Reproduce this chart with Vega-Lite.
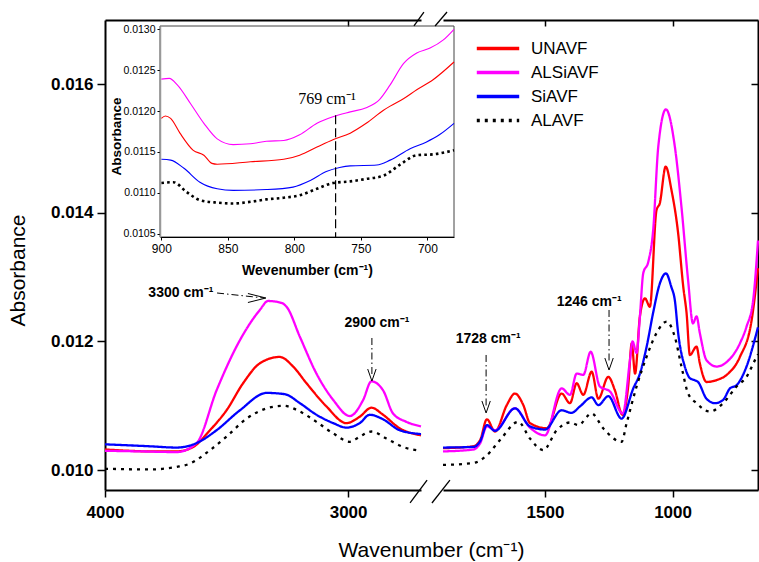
{
"$schema":"https://vega.github.io/schema/vega-lite/v6.json",
"autosize":{"type":"none"},
"padding":{"left":105,"top":20,"right":1,"bottom":72},
"width":653,"height":470,
"background":"white",
"datasets":{
"left":[
{"s":"UNAVF","w":4000,"v":0.01032},{"s":"UNAVF","w":3900,"v":0.0103},{"s":"UNAVF","w":3815,"v":0.01029},{"s":"UNAVF","w":3705,"v":0.01029},{"s":"UNAVF","w":3637,"v":0.01036},{"s":"UNAVF","w":3568,"v":0.01062},{"s":"UNAVF","w":3500,"v":0.01093},{"s":"UNAVF","w":3432,"v":0.01135},{"s":"UNAVF","w":3363,"v":0.01166},{"s":"UNAVF","w":3281,"v":0.01176},{"s":"UNAVF","w":3226,"v":0.01161},{"s":"UNAVF","w":3171,"v":0.01135},{"s":"UNAVF","w":3089,"v":0.01099},{"s":"UNAVF","w":3007,"v":0.01073},{"s":"UNAVF","w":2952,"v":0.01083},{"s":"UNAVF","w":2904,"v":0.01097},{"s":"UNAVF","w":2856,"v":0.01086},{"s":"UNAVF","w":2788,"v":0.01065},{"s":"UNAVF","w":2700,"v":0.01054},
{"s":"ALSiAVF","w":4000,"v":0.0103},{"s":"ALSiAVF","w":3850,"v":0.01029},{"s":"ALSiAVF","w":3705,"v":0.01028},{"s":"ALSiAVF","w":3623,"v":0.01042},{"s":"ALSiAVF","w":3541,"v":0.01124},{"s":"ALSiAVF","w":3445,"v":0.01202},{"s":"ALSiAVF","w":3363,"v":0.01249},{"s":"ALSiAVF","w":3329,"v":0.01263},{"s":"ALSiAVF","w":3274,"v":0.0126},{"s":"ALSiAVF","w":3253,"v":0.01254},{"s":"ALSiAVF","w":3198,"v":0.01207},{"s":"ALSiAVF","w":3130,"v":0.0115},{"s":"ALSiAVF","w":3061,"v":0.01109},{"s":"ALSiAVF","w":2993,"v":0.01084},{"s":"ALSiAVF","w":2938,"v":0.01109},{"s":"ALSiAVF","w":2904,"v":0.01138},{"s":"ALSiAVF","w":2856,"v":0.01124},{"s":"ALSiAVF","w":2815,"v":0.01088},{"s":"ALSiAVF","w":2760,"v":0.01075},{"s":"ALSiAVF","w":2700,"v":0.01068},
{"s":"SiAVF","w":4000,"v":0.0104},{"s":"SiAVF","w":3815,"v":0.01037},{"s":"SiAVF","w":3705,"v":0.01035},{"s":"SiAVF","w":3623,"v":0.01042},{"s":"SiAVF","w":3541,"v":0.01062},{"s":"SiAVF","w":3445,"v":0.01093},{"s":"SiAVF","w":3335,"v":0.0112},{"s":"SiAVF","w":3260,"v":0.01118},{"s":"SiAVF","w":3198,"v":0.01104},{"s":"SiAVF","w":3130,"v":0.01086},{"s":"SiAVF","w":3061,"v":0.01073},{"s":"SiAVF","w":3007,"v":0.01066},{"s":"SiAVF","w":2952,"v":0.01073},{"s":"SiAVF","w":2911,"v":0.01086},{"s":"SiAVF","w":2856,"v":0.01079},{"s":"SiAVF","w":2788,"v":0.01062},{"s":"SiAVF","w":2700,"v":0.01056},
{"s":"ALAVF","w":4000,"v":0.01002},{"s":"ALAVF","w":3815,"v":0.01001},{"s":"ALAVF","w":3705,"v":0.01005},{"s":"ALAVF","w":3651,"v":0.0101},{"s":"ALAVF","w":3568,"v":0.01031},{"s":"ALAVF","w":3500,"v":0.01052},{"s":"ALAVF","w":3418,"v":0.0108},{"s":"ALAVF","w":3335,"v":0.01096},{"s":"ALAVF","w":3267,"v":0.011},{"s":"ALAVF","w":3198,"v":0.01091},{"s":"ALAVF","w":3130,"v":0.01075},{"s":"ALAVF","w":3061,"v":0.01057},{"s":"ALAVF","w":2993,"v":0.01044},{"s":"ALAVF","w":2952,"v":0.01052},{"s":"ALAVF","w":2904,"v":0.0106},{"s":"ALAVF","w":2842,"v":0.01049},{"s":"ALAVF","w":2774,"v":0.01036},{"s":"ALAVF","w":2700,"v":0.0103}
],
"right":[
{"s":"UNAVF","w":1900,"v":0.01034},{"s":"UNAVF","w":1781,"v":0.01037},{"s":"UNAVF","w":1754,"v":0.01047},{"s":"UNAVF","w":1728,"v":0.01079},{"s":"UNAVF","w":1696,"v":0.0106},{"s":"UNAVF","w":1650,"v":0.01101},{"s":"UNAVF","w":1618,"v":0.01119},{"s":"UNAVF","w":1585,"v":0.01101},{"s":"UNAVF","w":1559,"v":0.01073},{"s":"UNAVF","w":1493,"v":0.01065},{"s":"UNAVF","w":1435,"v":0.01119},{"s":"UNAVF","w":1402,"v":0.01104},{"s":"UNAVF","w":1376,"v":0.01135},{"s":"UNAVF","w":1350,"v":0.01117},{"s":"UNAVF","w":1317,"v":0.01153},{"s":"UNAVF","w":1291,"v":0.01111},{"s":"UNAVF","w":1252,"v":0.01145},{"s":"UNAVF","w":1226,"v":0.01124},{"s":"UNAVF","w":1196,"v":0.01086},{"s":"UNAVF","w":1174,"v":0.0113},{"s":"UNAVF","w":1160,"v":0.01197},{"s":"UNAVF","w":1147,"v":0.0115},{"s":"UNAVF","w":1128,"v":0.01239},{"s":"UNAVF","w":1108,"v":0.01267},{"s":"UNAVF","w":1089,"v":0.01254},{"s":"UNAVF","w":1063,"v":0.01404},{"s":"UNAVF","w":1050,"v":0.01415},{"s":"UNAVF","w":1027,"v":0.01472},{"s":"UNAVF","w":1004,"v":0.01435},{"s":"UNAVF","w":978,"v":0.01368},{"s":"UNAVF","w":958,"v":0.01285},{"s":"UNAVF","w":945,"v":0.01244},{"s":"UNAVF","w":932,"v":0.01179},{"s":"UNAVF","w":906,"v":0.01192},{"s":"UNAVF","w":893,"v":0.01166},{"s":"UNAVF","w":867,"v":0.01137},{"s":"UNAVF","w":827,"v":0.0114},{"s":"UNAVF","w":788,"v":0.01148},{"s":"UNAVF","w":736,"v":0.01176},{"s":"UNAVF","w":690,"v":0.01233},{"s":"UNAVF","w":665,"v":0.01314},
{"s":"ALSiAVF","w":1900,"v":0.01029},{"s":"ALSiAVF","w":1781,"v":0.01032},{"s":"ALSiAVF","w":1754,"v":0.01042},{"s":"ALSiAVF","w":1728,"v":0.01068},{"s":"ALSiAVF","w":1696,"v":0.01062},{"s":"ALSiAVF","w":1618,"v":0.01096},{"s":"ALSiAVF","w":1559,"v":0.01066},{"s":"ALSiAVF","w":1500,"v":0.01054},{"s":"ALSiAVF","w":1435,"v":0.01127},{"s":"ALSiAVF","w":1402,"v":0.01117},{"s":"ALSiAVF","w":1376,"v":0.0115},{"s":"ALSiAVF","w":1350,"v":0.01148},{"s":"ALSiAVF","w":1321,"v":0.01184},{"s":"ALSiAVF","w":1285,"v":0.0113},{"s":"ALSiAVF","w":1245,"v":0.01122},{"s":"ALSiAVF","w":1195,"v":0.01088},{"s":"ALSiAVF","w":1167,"v":0.01171},{"s":"ALSiAVF","w":1157,"v":0.012},{"s":"ALSiAVF","w":1141,"v":0.01182},{"s":"ALSiAVF","w":1128,"v":0.01239},{"s":"ALSiAVF","w":1115,"v":0.01306},{"s":"ALSiAVF","w":1095,"v":0.01324},{"s":"ALSiAVF","w":1076,"v":0.01373},{"s":"ALSiAVF","w":1056,"v":0.01503},{"s":"ALSiAVF","w":1026,"v":0.01561},{"s":"ALSiAVF","w":991,"v":0.01503},{"s":"ALSiAVF","w":965,"v":0.01409},{"s":"ALSiAVF","w":939,"v":0.01295},{"s":"ALSiAVF","w":920,"v":0.01228},{"s":"ALSiAVF","w":906,"v":0.01239},{"s":"ALSiAVF","w":893,"v":0.01213},{"s":"ALSiAVF","w":867,"v":0.01171},{"s":"ALSiAVF","w":827,"v":0.01161},{"s":"ALSiAVF","w":788,"v":0.01168},{"s":"ALSiAVF","w":736,"v":0.01197},{"s":"ALSiAVF","w":710,"v":0.01223},{"s":"ALSiAVF","w":684,"v":0.01264},{"s":"ALSiAVF","w":665,"v":0.01357},
{"s":"SiAVF","w":1900,"v":0.01035},{"s":"SiAVF","w":1781,"v":0.01036},{"s":"SiAVF","w":1754,"v":0.01045},{"s":"SiAVF","w":1728,"v":0.0107},{"s":"SiAVF","w":1696,"v":0.01061},{"s":"SiAVF","w":1618,"v":0.01096},{"s":"SiAVF","w":1559,"v":0.01068},{"s":"SiAVF","w":1500,"v":0.01063},{"s":"SiAVF","w":1435,"v":0.01093},{"s":"SiAVF","w":1396,"v":0.01089},{"s":"SiAVF","w":1363,"v":0.01099},{"s":"SiAVF","w":1317,"v":0.01113},{"s":"SiAVF","w":1291,"v":0.01101},{"s":"SiAVF","w":1252,"v":0.01115},{"s":"SiAVF","w":1200,"v":0.0108},{"s":"SiAVF","w":1154,"v":0.01127},{"s":"SiAVF","w":1128,"v":0.0115},{"s":"SiAVF","w":1100,"v":0.01195},{"s":"SiAVF","w":1076,"v":0.01245},{"s":"SiAVF","w":1050,"v":0.0129},{"s":"SiAVF","w":1026,"v":0.01306},{"s":"SiAVF","w":1005,"v":0.01285},{"s":"SiAVF","w":991,"v":0.01264},{"s":"SiAVF","w":978,"v":0.01213},{"s":"SiAVF","w":952,"v":0.01161},{"s":"SiAVF","w":932,"v":0.01143},{"s":"SiAVF","w":915,"v":0.0114},{"s":"SiAVF","w":900,"v":0.01137},{"s":"SiAVF","w":867,"v":0.01111},{"s":"SiAVF","w":834,"v":0.01104},{"s":"SiAVF","w":802,"v":0.01109},{"s":"SiAVF","w":775,"v":0.01127},{"s":"SiAVF","w":749,"v":0.01132},{"s":"SiAVF","w":710,"v":0.01161},{"s":"SiAVF","w":671,"v":0.01213},{"s":"SiAVF","w":665,"v":0.01222},
{"s":"ALAVF","w":1900,"v":0.01008},{"s":"ALAVF","w":1781,"v":0.01011},{"s":"ALAVF","w":1728,"v":0.01023},{"s":"ALAVF","w":1676,"v":0.01047},{"s":"ALAVF","w":1605,"v":0.01075},{"s":"ALAVF","w":1559,"v":0.01049},{"s":"ALAVF","w":1507,"v":0.01031},{"s":"ALAVF","w":1454,"v":0.01062},{"s":"ALAVF","w":1402,"v":0.01074},{"s":"ALAVF","w":1370,"v":0.0107},{"s":"ALAVF","w":1317,"v":0.01088},{"s":"ALAVF","w":1272,"v":0.01065},{"s":"ALAVF","w":1200,"v":0.01044},{"s":"ALAVF","w":1180,"v":0.01073},{"s":"ALAVF","w":1141,"v":0.0113},{"s":"ALAVF","w":1102,"v":0.01176},{"s":"ALAVF","w":1063,"v":0.01213},{"s":"ALAVF","w":1023,"v":0.01231},{"s":"ALAVF","w":991,"v":0.01207},{"s":"ALAVF","w":965,"v":0.01161},{"s":"ALAVF","w":939,"v":0.01119},{"s":"ALAVF","w":906,"v":0.01104},{"s":"ALAVF","w":854,"v":0.01091},{"s":"ALAVF","w":802,"v":0.01104},{"s":"ALAVF","w":749,"v":0.0113},{"s":"ALAVF","w":710,"v":0.01145},{"s":"ALAVF","w":677,"v":0.01171},{"s":"ALAVF","w":665,"v":0.0118}
],
"inset":[
{"s":"UNAVF","w":900,"v":0.01191},{"s":"UNAVF","w":897,"v":0.01194},{"s":"UNAVF","w":893,"v":0.01191},{"s":"UNAVF","w":886,"v":0.01173},{"s":"UNAVF","w":876,"v":0.01152},{"s":"UNAVF","w":868,"v":0.01146},{"s":"UNAVF","w":862,"v":0.01136},{"s":"UNAVF","w":858,"v":0.01135},{"s":"UNAVF","w":833,"v":0.01138},{"s":"UNAVF","w":808,"v":0.01141},{"s":"UNAVF","w":796,"v":0.01146},{"s":"UNAVF","w":783,"v":0.01156},{"s":"UNAVF","w":771,"v":0.01165},{"s":"UNAVF","w":758,"v":0.01173},{"s":"UNAVF","w":746,"v":0.01185},{"s":"UNAVF","w":733,"v":0.01201},{"s":"UNAVF","w":728,"v":0.01206},{"s":"UNAVF","w":718,"v":0.01215},{"s":"UNAVF","w":708,"v":0.01226},{"s":"UNAVF","w":696,"v":0.01238},{"s":"UNAVF","w":680,"v":0.0126},
{"s":"ALSiAVF","w":900,"v":0.01239},{"s":"ALSiAVF","w":894,"v":0.0124},{"s":"ALSiAVF","w":888,"v":0.01232},{"s":"ALSiAVF","w":878,"v":0.01209},{"s":"ALSiAVF","w":868,"v":0.01185},{"s":"ALSiAVF","w":858,"v":0.01166},{"s":"ALSiAVF","w":846,"v":0.01159},{"s":"ALSiAVF","w":833,"v":0.0116},{"s":"ALSiAVF","w":821,"v":0.01163},{"s":"ALSiAVF","w":808,"v":0.01164},{"s":"ALSiAVF","w":796,"v":0.01171},{"s":"ALSiAVF","w":783,"v":0.01185},{"s":"ALSiAVF","w":771,"v":0.01193},{"s":"ALSiAVF","w":758,"v":0.01199},{"s":"ALSiAVF","w":746,"v":0.01204},{"s":"ALSiAVF","w":736,"v":0.01214},{"s":"ALSiAVF","w":728,"v":0.01232},{"s":"ALSiAVF","w":718,"v":0.01258},{"s":"ALSiAVF","w":708,"v":0.01271},{"s":"ALSiAVF","w":698,"v":0.01277},{"s":"ALSiAVF","w":688,"v":0.01287},{"s":"ALSiAVF","w":680,"v":0.013},
{"s":"SiAVF","w":900,"v":0.01141},{"s":"SiAVF","w":893,"v":0.0114},{"s":"SiAVF","w":883,"v":0.0113},{"s":"SiAVF","w":871,"v":0.01113},{"s":"SiAVF","w":858,"v":0.01105},{"s":"SiAVF","w":846,"v":0.01103},{"s":"SiAVF","w":821,"v":0.01104},{"s":"SiAVF","w":801,"v":0.01107},{"s":"SiAVF","w":788,"v":0.01115},{"s":"SiAVF","w":776,"v":0.01126},{"s":"SiAVF","w":766,"v":0.01131},{"s":"SiAVF","w":758,"v":0.01133},{"s":"SiAVF","w":738,"v":0.01134},{"s":"SiAVF","w":728,"v":0.0114},{"s":"SiAVF","w":713,"v":0.01154},{"s":"SiAVF","w":701,"v":0.01162},{"s":"SiAVF","w":691,"v":0.01171},{"s":"SiAVF","w":680,"v":0.01185},
{"s":"ALAVF","w":900,"v":0.01112},{"s":"ALAVF","w":891,"v":0.01113},{"s":"ALAVF","w":881,"v":0.01101},{"s":"ALAVF","w":871,"v":0.01091},{"s":"ALAVF","w":858,"v":0.01088},{"s":"ALAVF","w":846,"v":0.01087},{"s":"ALAVF","w":833,"v":0.01089},{"s":"ALAVF","w":821,"v":0.01092},{"s":"ALAVF","w":808,"v":0.01094},{"s":"ALAVF","w":796,"v":0.01097},{"s":"ALAVF","w":783,"v":0.01105},{"s":"ALAVF","w":771,"v":0.01112},{"s":"ALAVF","w":758,"v":0.01114},{"s":"ALAVF","w":746,"v":0.01117},{"s":"ALAVF","w":733,"v":0.01121},{"s":"ALAVF","w":721,"v":0.01134},{"s":"ALAVF","w":708,"v":0.01146},{"s":"ALAVF","w":696,"v":0.01147},{"s":"ALAVF","w":680,"v":0.01152}
],
"annL":[{"t":"3300 cm⁻¹","w":3688,"v":0.012754},{"t":"2900 cm⁻¹","w":2881,"v":0.012287}],
"annR":[{"t":"1728 cm⁻¹","w":1723,"v":0.012038},{"t":"1246 cm⁻¹","w":1327,"v":0.012614}],
"arrL":[{"w":3539,"v":0.012754,"w2":3345,"v2":0.012676},{"w":2902,"v":0.012054,"w2":2902,"v2":0.011479}],
"arrR":[{"w":1731,"v":0.01179,"w2":1731,"v2":0.011},{"w":1249,"v":0.01249,"w2":1249,"v2":0.011665}],
"headRight":[{"w":3338,"v":0.012676}],
"headDownL":[{"w":2902,"v":0.011385}],
"headDownR":[{"w":1731,"v":0.010888},{"w":1249,"v":0.011556}],
"brk":[{"w":2745,"v":0.009488,"w2":2675,"v2":0.009845},{"w":2655,"v":0.009488,"w2":2581,"v2":0.009845},{"w":2729,"v":0.016907,"w2":2688,"v2":0.017124},{"w":2642,"v":0.016907,"w2":2593,"v2":0.017124}],
"frame":[{"w":901,"w2":680,"v":0.01046,"v2":0.01304}],
"mark769":[{"w":769,"v":0.01195,"v2":0.01046,"t":"769 cm⁻¹","tw":797,"tv":0.012086}]
},
"resolve":{"scale":{"x":"independent","y":"independent"},"axis":{"x":"independent","y":"independent"}},
"layer":[
{"data":{"name":"left"},"mark":{"type":"line","strokeWidth":2.3,"interpolate":"monotone"},
 "encoding":{
  "x":{"field":"w","type":"quantitative","scale":{"domain":[4000,2700],"range":[0,316],"nice":false,"zero":false},
       "axis":{"orient":"bottom","values":[4000,3000],"format":"d","labelFlush":false,"labelFontSize":17,"labelFontWeight":"bold","tickSize":7,"tickWidth":1.5,"domainWidth":2,"labelPadding":7,
               "title":"Wavenumber (cm⁻¹)","titleFontSize":21,"titleFontWeight":"normal","titleX":326,"titleY":66,"titleAlign":"center","titleBaseline":"alphabetic","titleAnchor":null}},
  "y":{"field":"v","type":"quantitative","scale":{"domain":[0.00969,0.017],"nice":false,"zero":false},
       "axis":{"orient":"left","values":[0.010,0.012,0.014,0.016],"format":".3f","labelFontSize":17,"labelFontWeight":"bold","tickSize":8,"tickWidth":1.5,"domainWidth":2,"labelPadding":4,
               "title":"Absorbance","titleFontSize":21,"titleFontWeight":"normal","titleX":-87,"titleY":250,"titleAngle":-90,"titleAlign":"center","titleBaseline":"middle"}},
  "color":{"field":"s","type":"nominal","title":null,"scale":{"domain":["UNAVF","ALSiAVF","SiAVF","ALAVF"],"range":["#ff0000","#ff00ff","#0000ff","#000000"]}},
  "strokeDash":{"field":"s","type":"nominal","title":null,"scale":{"domain":["UNAVF","ALSiAVF","SiAVF","ALAVF"],"range":[[1,0],[1,0],[1,0],[3,5]]}}
 }},
{"data":{"name":"right"},"mark":{"type":"line","strokeWidth":2.3,"interpolate":"monotone"},
 "encoding":{
  "x":{"field":"w","type":"quantitative","scale":{"domain":[1900,665],"range":[338,653],"nice":false,"zero":false},
       "axis":{"orient":"bottom","values":[1500,1000],"format":"d","labelFlush":false,"labelFontSize":17,"labelFontWeight":"bold","tickSize":7,"tickWidth":1.5,"domainWidth":2,"labelPadding":7,"title":null}},
  "y":{"field":"v","type":"quantitative","scale":{"domain":[0.00969,0.017],"nice":false,"zero":false},
       "axis":{"orient":"right","values":[0.010,0.012,0.014,0.016],"labels":false,"tickSize":-7,"tickWidth":1.5,"domainWidth":2,"title":null}},
  "color":{"field":"s","type":"nominal","title":null,"scale":{"domain":["UNAVF","ALSiAVF","SiAVF","ALAVF"],"range":["#ff0000","#ff00ff","#0000ff","#000000"]}},
  "strokeDash":{"field":"s","type":"nominal","title":null,"scale":{"domain":["UNAVF","ALSiAVF","SiAVF","ALAVF"],"range":[[1,0],[1,0],[1,0],[3,5]]}}
 }},
{"data":{"name":"left"},"mark":{"type":"point","opacity":0},
 "encoding":{
  "x":{"field":"w","type":"quantitative","scale":{"domain":[4000,2700],"range":[0,316],"nice":false,"zero":false},
       "axis":{"orient":"top","values":[3000],"labels":false,"tickSize":-6,"tickWidth":1.5,"domainWidth":2,"title":null}},
  "y":{"field":"v","type":"quantitative","scale":{"domain":[0.00969,0.017],"nice":false,"zero":false},"axis":null}
 }},
{"data":{"name":"right"},"mark":{"type":"point","opacity":0},
 "encoding":{
  "x":{"field":"w","type":"quantitative","scale":{"domain":[1900,665],"range":[338,653],"nice":false,"zero":false},
       "axis":{"orient":"top","values":[1500,1000],"labels":false,"tickSize":-6,"tickWidth":1.5,"domainWidth":2,"title":null}},
  "y":{"field":"v","type":"quantitative","scale":{"domain":[0.00969,0.017],"nice":false,"zero":false},"axis":null}
 }},
{"data":{"name":"frame"},"mark":{"type":"rect","filled":false,"stroke":"#444444","strokeWidth":1},
 "encoding":{
  "x":{"field":"w","type":"quantitative","scale":{"domain":[901,680],"range":[55,349],"nice":false,"zero":false},"axis":null},
  "x2":{"field":"w2"},
  "y":{"field":"v","type":"quantitative","scale":{"domain":[0.01046,0.01304],"range":[217,6],"nice":false,"zero":false},"axis":null},
  "y2":{"field":"v2"}
 }},
{"data":{"name":"inset"},"transform":[{"filter":"datum.s !== 'ALAVF'"}],"mark":{"type":"line","strokeWidth":1.1,"interpolate":"monotone"},
 "encoding":{
  "x":{"field":"w","type":"quantitative","scale":{"domain":[901,680],"range":[55,349],"nice":false,"zero":false},
       "axis":{"orient":"bottom","offset":-253,"zindex":1,"values":[900,850,800,750,700],"format":"d","labelFlush":false,"labelFontSize":12,"tickSize":3,"labelPadding":3,"domainWidth":1,
               "title":"Wevenumber (cm⁻¹)","titleFontSize":14,"titleFontWeight":"bold","titleX":202,"titleY":33,"titleAlign":"center","titleBaseline":"middle"}},
  "y":{"field":"v","type":"quantitative","scale":{"domain":[0.01046,0.01304],"range":[217,6],"nice":false,"zero":false},
       "axis":{"orient":"left","offset":-55,"zindex":1,"values":[0.0105,0.011,0.0115,0.012,0.0125,0.013],"format":".4f","labelFlush":false,"labelFontSize":10.5,"tickSize":3,"labelPadding":2,"domainWidth":1.5,"domainColor":"#999999",
               "title":"Absorbance","titleFontSize":13.5,"titleFontWeight":"bold","titleX":-44,"titleY":116,"titleAngle":-90,"titleAlign":"center","titleBaseline":"middle"}},
  "color":{"field":"s","type":"nominal","title":null,"scale":{"domain":["UNAVF","ALSiAVF","SiAVF","ALAVF"],"range":["#ff0000","#ff00ff","#0000ff","#000000"]}}
 }},
{"data":{"name":"inset"},"transform":[{"filter":"datum.s === 'ALAVF'"}],"mark":{"type":"line","strokeWidth":2.6,"strokeDash":[2.6,3.2],"color":"#000000","interpolate":"monotone"},
 "encoding":{
  "x":{"field":"w","type":"quantitative","scale":{"domain":[901,680],"range":[55,349],"nice":false,"zero":false},"axis":null},
  "y":{"field":"v","type":"quantitative","scale":{"domain":[0.01046,0.01304],"range":[217,6],"nice":false,"zero":false},"axis":null}
 }},
{"data":{"name":"mark769"},"mark":{"type":"rule","strokeDash":[9,4],"strokeWidth":1.2,"color":"#000000"},
 "encoding":{
  "x":{"field":"w","type":"quantitative","scale":{"domain":[901,680],"range":[55,349],"nice":false,"zero":false},"axis":null},
  "y":{"field":"v","type":"quantitative","scale":{"domain":[0.01046,0.01304],"range":[217,6],"nice":false,"zero":false},"axis":null},
  "y2":{"field":"v2"}
 }},
{"data":{"name":"mark769"},"mark":{"type":"text","font":"Liberation Serif","fontSize":16,"align":"left","baseline":"alphabetic","color":"#000000"},
 "encoding":{
  "x":{"field":"tw","type":"quantitative","scale":{"domain":[901,680],"range":[55,349],"nice":false,"zero":false},"axis":null},
  "y":{"field":"tv","type":"quantitative","scale":{"domain":[0.01046,0.01304],"range":[217,6],"nice":false,"zero":false},"axis":null},
  "text":{"field":"t"}
 }},
{"data":{"name":"annL"},"mark":{"type":"text","font":"Liberation Sans","fontSize":14,"fontWeight":"bold","align":"center","baseline":"middle","color":"#000000"},
 "encoding":{
  "x":{"field":"w","type":"quantitative","scale":{"domain":[4000,2700],"range":[0,316],"nice":false,"zero":false},"axis":null},
  "y":{"field":"v","type":"quantitative","scale":{"domain":[0.00969,0.017],"nice":false,"zero":false},"axis":null},
  "text":{"field":"t"}
 }},
{"data":{"name":"annR"},"mark":{"type":"text","font":"Liberation Sans","fontSize":14,"fontWeight":"bold","align":"center","baseline":"middle","color":"#000000"},
 "encoding":{
  "x":{"field":"w","type":"quantitative","scale":{"domain":[1900,665],"range":[338,653],"nice":false,"zero":false},"axis":null},
  "y":{"field":"v","type":"quantitative","scale":{"domain":[0.00969,0.017],"nice":false,"zero":false},"axis":null},
  "text":{"field":"t"}
 }},
{"data":{"name":"arrL"},"mark":{"type":"rule","strokeDash":[7,3,1.5,3],"strokeWidth":1,"color":"#000000"},
 "encoding":{
  "x":{"field":"w","type":"quantitative","scale":{"domain":[4000,2700],"range":[0,316],"nice":false,"zero":false},"axis":null},
  "x2":{"field":"w2"},
  "y":{"field":"v","type":"quantitative","scale":{"domain":[0.00969,0.017],"nice":false,"zero":false},"axis":null},
  "y2":{"field":"v2"}
 }},
{"data":{"name":"arrR"},"mark":{"type":"rule","strokeDash":[7,3,1.5,3],"strokeWidth":1,"color":"#000000"},
 "encoding":{
  "x":{"field":"w","type":"quantitative","scale":{"domain":[1900,665],"range":[338,653],"nice":false,"zero":false},"axis":null},
  "x2":{"field":"w2"},
  "y":{"field":"v","type":"quantitative","scale":{"domain":[0.00969,0.017],"nice":false,"zero":false},"axis":null},
  "y2":{"field":"v2"}
 }},
{"data":{"name":"headRight"},"mark":{"type":"point","shape":"M-2,-0.5L0,0L-2,0.5","size":324,"filled":false,"stroke":"#000000","strokeWidth":1,"opacity":1},
 "encoding":{
  "x":{"field":"w","type":"quantitative","scale":{"domain":[4000,2700],"range":[0,316],"nice":false,"zero":false},"axis":null},
  "y":{"field":"v","type":"quantitative","scale":{"domain":[0.00969,0.017],"nice":false,"zero":false},"axis":null}
 }},
{"data":{"name":"headDownL"},"mark":{"type":"point","shape":"M-0.35,-1L0,0L0.35,-1","size":576,"filled":false,"stroke":"#000000","strokeWidth":1,"opacity":1},
 "encoding":{
  "x":{"field":"w","type":"quantitative","scale":{"domain":[4000,2700],"range":[0,316],"nice":false,"zero":false},"axis":null},
  "y":{"field":"v","type":"quantitative","scale":{"domain":[0.00969,0.017],"nice":false,"zero":false},"axis":null}
 }},
{"data":{"name":"headDownR"},"mark":{"type":"point","shape":"M-0.35,-1L0,0L0.35,-1","size":576,"filled":false,"stroke":"#000000","strokeWidth":1,"opacity":1},
 "encoding":{
  "x":{"field":"w","type":"quantitative","scale":{"domain":[1900,665],"range":[338,653],"nice":false,"zero":false},"axis":null},
  "y":{"field":"v","type":"quantitative","scale":{"domain":[0.00969,0.017],"nice":false,"zero":false},"axis":null}
 }},
{"data":{"name":"brk"},"mark":{"type":"rule","strokeWidth":1.3,"color":"#000000"},
 "encoding":{
  "x":{"field":"w","type":"quantitative","scale":{"domain":[4000,2700],"range":[0,316],"nice":false,"zero":false},"axis":null},
  "x2":{"field":"w2"},
  "y":{"field":"v","type":"quantitative","scale":{"domain":[0.00969,0.017],"nice":false,"zero":false},"axis":null},
  "y2":{"field":"v2"}
 }}
],
"config":{
 "view":{"stroke":null},
 "font":"Liberation Sans",
 "axis":{"grid":false,"labelFont":"Liberation Sans","titleFont":"Liberation Sans","labelColor":"#000000","titleColor":"#000000","tickColor":"#000000","domainColor":"#000000"},
 "legend":{"orient":"none","legendX":370,"legendY":20,"symbolType":"stroke","symbolSize":1800,"symbolStrokeWidth":3.5,"labelFontSize":17,"labelFont":"Liberation Sans","labelColor":"#000000","labelOffset":10,"rowPadding":6,"clipHeight":17,"padding":0}
}
}
